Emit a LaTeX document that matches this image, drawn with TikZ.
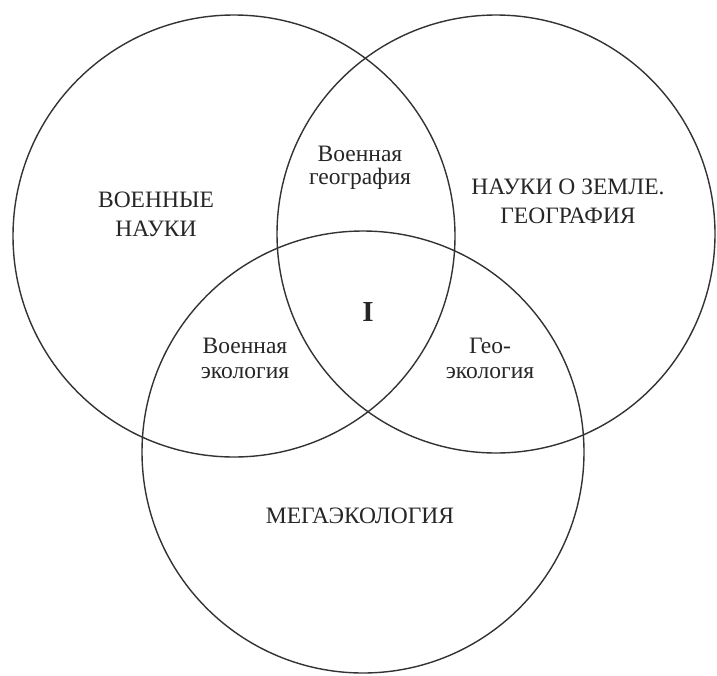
\documentclass[tikz,border=0pt]{standalone}
\usepackage{fontspec}
\setmainfont{Liberation Serif}
\begin{document}
\begin{tikzpicture}[x=1pt,y=-1pt,
  ring/.style={draw=black!80, line width=1.4pt},
  lbl/.style={font=\fontsize{23.5}{25}\selectfont, text=black!85, inner sep=0pt, align=center, anchor=base}]
\useasboundingbox[fill=white] (0,0) rectangle (717,675);
\draw[ring] (234,236) circle[radius=221];
\draw[ring] (496,234) circle[radius=219];
\draw[ring] (363,452) circle[radius=221];
\node[lbl] (milsci) at (156,236) {ВОЕННЫЕ\\[4pt]НАУКИ};
\node[lbl] (earth) at (568,223) {НАУКИ О ЗЕМЛЕ.\\[3.5pt]ГЕОГРАФИЯ};
\node[lbl] (milgeo) at (360,184) {Военная\\[-2pt]география};
\node[lbl] (mileco) at (245,378) {Военная\\экология};
\node[lbl] (geoeco) at (490,378) {Гео-\\экология};
\node[lbl, font=\fontsize{29}{30}\selectfont\bfseries] (core) at (368,321) {I};
\node[lbl] (mega) at (360,523) {МЕГАЭКОЛОГИЯ};
\end{tikzpicture}
\end{document}
